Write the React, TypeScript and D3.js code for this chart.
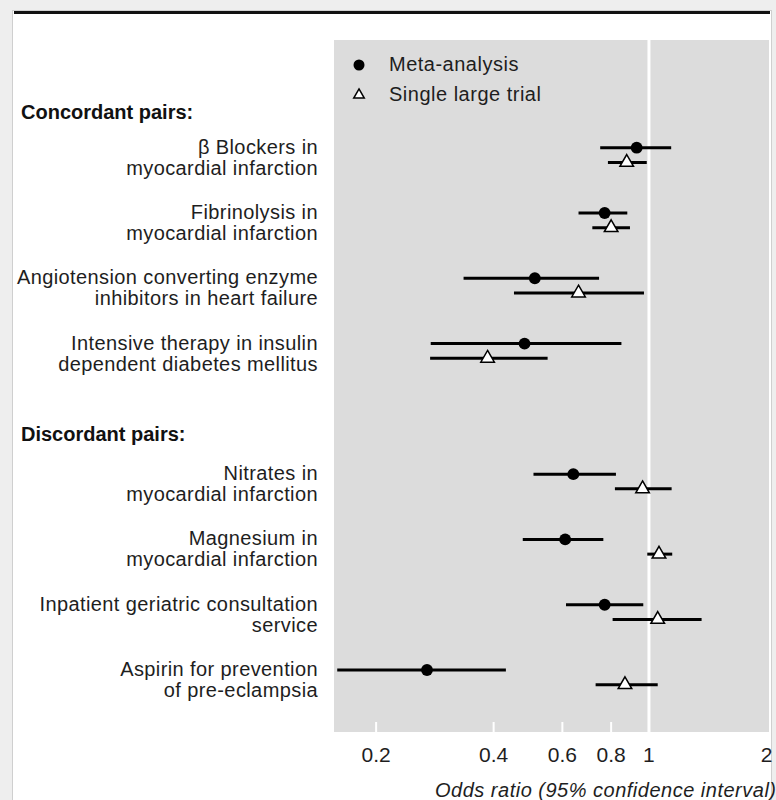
import React from 'react';
import * as d3 from 'd3';

// row labels, two lines each
const labels = [
  ['β Blockers in', 'myocardial infarction'],
  ['Fibrinolysis in', 'myocardial infarction'],
  ['Angiotension converting enzyme', 'inhibitors in heart failure'],
  ['Intensive therapy in insulin', 'dependent diabetes mellitus'],
  ['Nitrates in', 'myocardial infarction'],
  ['Magnesium in', 'myocardial infarction'],
  ['Inpatient geriatric consultation', 'service'],
  ['Aspirin for prevention', 'of pre-eclampsia'],
];
const rowIndex = [0, 1, 2, 3, 5, 6, 7, 8];
const groupTitles = ['Concordant pairs:', 'Discordant pairs:'];
const groupRows = [-0.55, 4.38];

// meta-analysis odds ratios + 95% CI
const metaOR = [0.93, 0.77, 0.51, 0.48, 0.64, 0.61, 0.77, 0.27];
const metaLo = [0.75, 0.66, 0.335, 0.276, 0.506, 0.475, 0.613, 0.159];
const metaHi = [1.14, 0.88, 0.745, 0.85, 0.823, 0.764, 0.967, 0.43];

// single large trial
const trialOR = [0.877, 0.8, 0.66, 0.386, 0.963, 1.061, 1.053, 0.868];
const trialLo = [0.785, 0.716, 0.451, 0.275, 0.818, 0.99, 0.807, 0.73];
const trialHi = [0.987, 0.894, 0.971, 0.55, 1.143, 1.147, 1.364, 1.053];

const ticks = [0.2, 0.4, 0.6, 0.8, 1, 2];
const tickLabels = ['0.2', '0.4', '0.6', '0.8', '1', '2'];

const W = 776;
const H = 800;
const font = "'Liberation Sans', Arial, sans-serif";

export default function App() {
  const x = d3.scaleLog().domain([0.156, 2.03]).range([334, 769]);
  const y = d3.scaleLinear().domain([0, 8]).range([147.7, 670]);
  const panelTop = 40;
  const panelBottom = 732;
  const trialOff = 14.7;

  const dot = d3.symbol(d3.symbolCircle, 110)();
  const tri = d3.symbol(d3.symbolTriangle, 80)();
  const triLegend = d3.symbol(d3.symbolTriangle, 48)();

  return (
    <svg width={W} height={H} style={{ position: 'absolute', left: 0, top: 0 }} fontFamily={font}>
      {/* frame */}
      <rect x={0} y={0} width={W} height={H} fill="#eeeeee" />
      <rect x={12.5} y={10.5} width={759} height={800} fill="#fff" stroke="#cfcfcf" />
      <rect x={14} y={11} width={756} height={3} fill="#111" />

      {/* panel */}
      <rect x={x.range()[0]} y={panelTop} width={x.range()[1] - x.range()[0]} height={panelBottom - panelTop} fill="#dcdcdc" />
      {ticks.filter((t) => t !== 1 && t < 2).map((t) => (
        <line key={t} x1={x(t)} x2={x(t)} y1={panelBottom - 10} y2={panelBottom} stroke="#fff" strokeWidth={2} />
      ))}
      <line x1={x(1)} x2={x(1)} y1={panelTop} y2={panelBottom} stroke="#fff" strokeWidth={3} />

      {/* tick labels */}
      {ticks.map((t, i) => (
        <text key={t} x={x(t)} y={762} textAnchor="middle" fontSize={21} fill="#1e1e1e">
          {tickLabels[i]}
        </text>
      ))}
      <text x={435} y={797} fontSize={20} fontStyle="italic" letterSpacing={0.5} fill="#1e1e1e">
        Odds ratio (95% confidence interval)
      </text>

      {/* legend */}
      <circle cx={359} cy={65} r={5.5} fill="#000" />
      <path d={triLegend} transform="translate(359,95)" fill="#fff" stroke="#000" strokeWidth={1.5} />
      <text x={389} y={71} fontSize={20} letterSpacing={0.5} fill="#1e1e1e">Meta-analysis</text>
      <text x={389} y={101} fontSize={20} letterSpacing={0.5} fill="#1e1e1e">Single large trial</text>

      {/* group titles */}
      {groupTitles.map((g, i) => (
        <text key={g} x={21} y={y(groupRows[i]) + 7} fontSize={20} fontWeight="bold" fill="#111">
          {g}
        </text>
      ))}

      {/* row labels */}
      {labels.map((l, i) => (
        <g key={i}>
          <text x={318} y={y(rowIndex[i]) + 6} textAnchor="end" fontSize={20} letterSpacing={0.4} fill="#1e1e1e">{l[0]}</text>
          <text x={318} y={y(rowIndex[i]) + 27} textAnchor="end" fontSize={20} letterSpacing={0.4} fill="#1e1e1e">{l[1]}</text>
        </g>
      ))}

      {/* meta-analysis */}
      {metaOR.map((v, i) => (
        <g key={'m' + i}>
          <line x1={x(metaLo[i])} x2={x(metaHi[i])} y1={y(rowIndex[i])} y2={y(rowIndex[i])} stroke="#000" strokeWidth={3} />
          <path d={dot} transform={`translate(${x(v)},${y(rowIndex[i])})`} fill="#000" />
        </g>
      ))}

      {/* single large trial */}
      {trialOR.map((v, i) => (
        <g key={'t' + i}>
          <line x1={x(trialLo[i])} x2={x(trialHi[i])} y1={y(rowIndex[i]) + trialOff} y2={y(rowIndex[i]) + trialOff} stroke="#000" strokeWidth={3} />
          <path d={tri} transform={`translate(${x(v)},${y(rowIndex[i]) + trialOff})`} fill="#fff" stroke="#000" strokeWidth={1.5} />
        </g>
      ))}
    </svg>
  );
}
